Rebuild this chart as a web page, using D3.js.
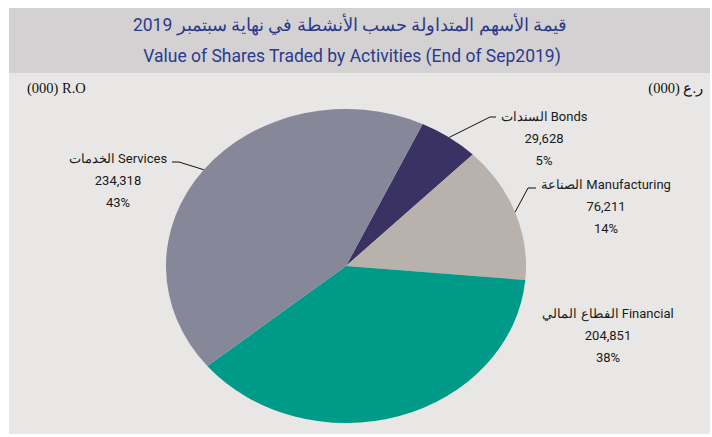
<!DOCTYPE html>
<html>
<head>
<meta charset="utf-8">
<script src="https://cdn.jsdelivr.net/npm/d3@7"></script>
<style>
  body { margin: 0; background: #fff; }
  svg { display: block; }
</style>
</head>
<body>
<div id="chart"></div>
<script>
// data
const categories = ["Bonds", "Manufacturing", "Financial", "Services"];
const arabicNames = ["السندات", "الصناعة", "الفطاع المالي", "الخدمات"];
const values = [29628, 76211, 204851, 234318];
const percents = ["5%", "14%", "38%", "43%"];
const colors = ["#3a3262", "#b9b1ab", "#009a89", "#868799"];

const titleAr = "قيمة الأسهم المتداولة حسب الأنشطة في نهاية سبتمبر 2019";
const titleEn = "Value of Shares Traded by Activities (End of Sep2019)";
const unitEn = "(000) R.O";
const unitAr = "(000) ر.ع";

// layout
const W = 712, H = 437;
const cx = 346, cy = 266, rx = 180, ry = 157;
const startDeg = 25.2;

// label placement: text centre x, first baseline y, leader elbow (if any)
const labelPos = [
  { x: 544, y: 121, elbow: [490, 117], end: 496 },
  { x: 606, y: 189, elbow: [528, 188], end: 536 },
  { x: 608, y: 318, elbow: null },
  { x: 118, y: 163, elbow: [179, 162], end: 172 }
];

const svg = d3.select("#chart").append("svg")
  .attr("width", W)
  .attr("height", H);

// panel backgrounds
svg.append("rect")
  .attr("x", 9).attr("y", 8)
  .attr("width", 701).attr("height", 426)
  .attr("fill", "#e8e7e5");
svg.append("rect")
  .attr("x", 9).attr("y", 8)
  .attr("width", 701).attr("height", 65)
  .attr("fill", "#d3d1d2");

// titles
svg.append("text")
  .attr("x", 350).attr("y", 31)
  .attr("text-anchor", "middle")
  .attr("direction", "rtl")
  .style("font-family", "Roboto, 'Noto Sans', sans-serif")
  .style("font-size", "17.5px")
  .style("fill", "#2b3b8c")
  .text(titleAr);
svg.append("text")
  .attr("x", 352).attr("y", 62)
  .attr("text-anchor", "middle")
  .style("font-family", "Roboto, 'Noto Sans', sans-serif")
  .style("font-size", "17.5px")
  .style("fill", "#2b3b8c")
  .text(titleEn);

// unit labels
svg.append("text")
  .attr("x", 27).attr("y", 93)
  .style("font-family", "'Liberation Serif', 'DejaVu Serif', serif")
  .style("font-size", "14.5px")
  .style("fill", "#111")
  .text(unitEn);
svg.append("text")
  .attr("x", 703).attr("y", 93)
  .attr("text-anchor", "end")
  .style("font-family", "'Liberation Serif', 'DejaVu Serif', serif")
  .style("font-size", "14.5px")
  .style("fill", "#111")
  .text(unitAr);

// pie (elliptical by scaling y)
const pie = d3.pie()
  .sort(null)
  .value(d => d)
  .startAngle(startDeg * Math.PI / 180)
  .endAngle(startDeg * Math.PI / 180 + 2 * Math.PI);
const arcs = pie(values);
const arc = d3.arc().innerRadius(0).outerRadius(rx);

const pieG = svg.append("g")
  .attr("transform", `translate(${cx},${cy}) scale(1,${ry / rx})`);
pieG.selectAll("path")
  .data(arcs)
  .join("path")
  .attr("d", arc)
  .attr("fill", (d, i) => colors[i]);

// labels + leaders
const font = "Roboto, 'Noto Sans', sans-serif";
arcs.forEach((a, i) => {
  const p = labelPos[i];
  const mid = (a.startAngle + a.endAngle) / 2;
  const ex = cx + rx * Math.sin(mid);
  const ey = cy - ry * Math.cos(mid);

  if (p.elbow) {
    svg.append("polyline")
      .attr("points", [[ex, ey], p.elbow, [p.end, p.elbow[1]]].map(q => q.join(",")).join(" "))
      .attr("fill", "none")
      .attr("stroke", "#111")
      .attr("stroke-width", 1);
  }

  const lines = [arabicNames[i] + " " + categories[i], d3.format(",")(values[i]), percents[i]];
  lines.forEach((t, j) => {
    svg.append("text")
      .attr("x", p.x)
      .attr("y", p.y + j * 22)
      .attr("text-anchor", "middle")
      .style("font-family", font)
      .style("font-size", "13px")
      .style("fill", "#1a1a1a")
      .text(t);
  });
});
</script>
</body>
</html>
